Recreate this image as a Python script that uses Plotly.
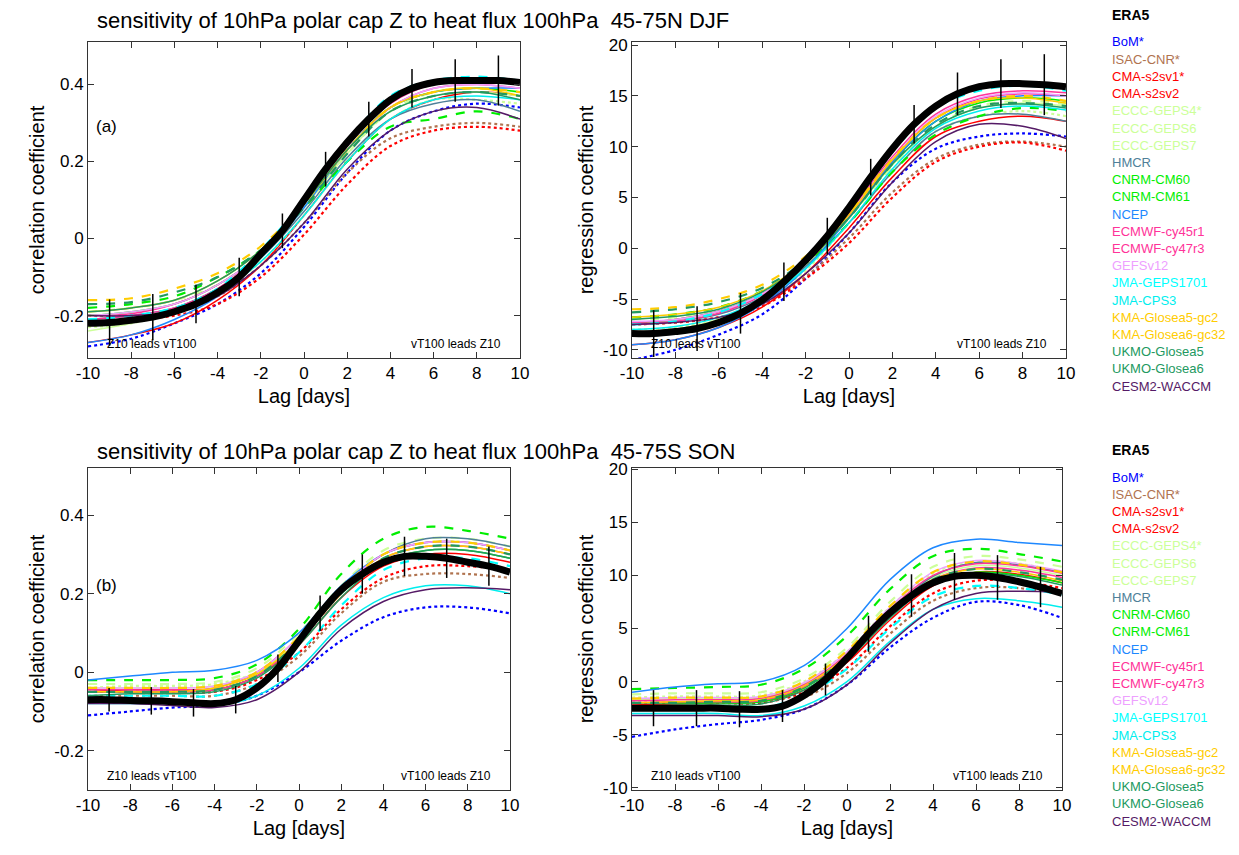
import plotly.graph_objects as go

W, H = 1239, 855
OFF = 8  # page body margin

lags = [-10, -8, -6, -4, -2, 0, 2, 4, 6, 8, 10]
lags_era = list(range(-10, 11))
lags_err = [-9, -7, -5, -3, -1, 1, 3, 5, 7, 9]

models = ["BoM*", "ISAC-CNR*", "CMA-s2sv1*", "CMA-s2sv2", "ECCC-GEPS4*", "ECCC-GEPS6",
          "ECCC-GEPS7", "HMCR", "CNRM-CM60", "CNRM-CM61", "NCEP", "ECMWF-cy45r1",
          "ECMWF-cy47r3", "GEFSv12", "JMA-GEPS1701", "JMA-CPS3", "KMA-Glosea5-gc2",
          "KMA-Glosea6-gc32", "UKMO-Glosea5", "UKMO-Glosea6", "CESM2-WACCM"]
colors = ["#0000ff", "#b0734f", "#ff0000", "#ff0000", "#ccff99", "#ccff99",
          "#ccff99", "#4f7f99", "#00ee00", "#00ee00", "#1e88ff", "#ff3399",
          "#ff3399", "#eea0ff", "#00ffff", "#00eeee", "#ffcc00",
          "#ffcc00", "#229960", "#229960", "#551a66"]
dashes = ["dot", "dot", "dot", "solid", "dot", "solid",
          "dash", "solid", "dash", "solid", "solid", "solid",
          "solid", "solid", "dash", "solid", "dash",
          "solid", "dash", "solid", "solid"]

# ---- panel (a) DJF correlation ----
era_a_corr = [-0.22, -0.218, -0.212, -0.204, -0.19, -0.17, -0.14, -0.1, -0.04, 0.02, 0.1,
              0.18, 0.25, 0.31, 0.36, 0.39, 0.405, 0.41, 0.41, 0.41, 0.405]
err_a_corr = [0.06, 0.06, 0.05, 0.05, 0.045, 0.045, 0.045, 0.05, 0.055, 0.065]
a_corr = [
    [-0.28, -0.26, -0.22, -0.17, -0.09, 0.03, 0.17, 0.28, 0.33, 0.35, 0.34],
    [-0.2, -0.2, -0.19, -0.15, -0.07, 0.04, 0.17, 0.26, 0.29, 0.3, 0.29],
    [-0.22, -0.21, -0.2, -0.17, -0.1, 0.01, 0.14, 0.24, 0.28, 0.29, 0.28],
    [-0.27, -0.25, -0.22, -0.16, -0.07, 0.06, 0.2, 0.31, 0.36, 0.38, 0.37],
    [-0.23, -0.22, -0.19, -0.14, -0.06, 0.06, 0.2, 0.31, 0.36, 0.36, 0.35],
    [-0.24, -0.22, -0.19, -0.14, -0.05, 0.08, 0.22, 0.33, 0.37, 0.38, 0.37],
    [-0.19, -0.18, -0.16, -0.12, -0.04, 0.08, 0.22, 0.33, 0.38, 0.39, 0.38],
    [-0.21, -0.2, -0.18, -0.13, -0.05, 0.07, 0.21, 0.31, 0.35, 0.36, 0.33],
    [-0.18, -0.17, -0.15, -0.1, -0.03, 0.08, 0.2, 0.29, 0.31, 0.33, 0.31],
    [-0.2, -0.19, -0.17, -0.12, -0.04, 0.09, 0.23, 0.34, 0.38, 0.39, 0.38],
    [-0.27, -0.25, -0.21, -0.15, -0.05, 0.08, 0.23, 0.34, 0.38, 0.39, 0.39],
    [-0.2, -0.195, -0.17, -0.12, -0.04, 0.09, 0.23, 0.34, 0.39, 0.4, 0.39],
    [-0.21, -0.2, -0.18, -0.13, -0.04, 0.09, 0.24, 0.35, 0.4, 0.41, 0.4],
    [-0.2, -0.19, -0.17, -0.12, -0.04, 0.09, 0.23, 0.34, 0.39, 0.4, 0.39],
    [-0.21, -0.2, -0.18, -0.13, -0.03, 0.1, 0.25, 0.37, 0.41, 0.42, 0.41],
    [-0.22, -0.21, -0.19, -0.14, -0.06, 0.06, 0.2, 0.31, 0.36, 0.37, 0.36],
    [-0.16, -0.155, -0.13, -0.09, -0.02, 0.09, 0.23, 0.34, 0.38, 0.39, 0.38],
    [-0.19, -0.18, -0.16, -0.11, -0.03, 0.09, 0.23, 0.34, 0.38, 0.39, 0.37],
    [-0.17, -0.165, -0.14, -0.1, -0.03, 0.08, 0.22, 0.33, 0.37, 0.38, 0.37],
    [-0.19, -0.18, -0.16, -0.11, -0.03, 0.09, 0.23, 0.33, 0.37, 0.38, 0.36],
    [-0.2, -0.2, -0.19, -0.15, -0.07, 0.04, 0.18, 0.28, 0.33, 0.34, 0.31],
]

# ---- panel (a) DJF regression ----
era_a_reg = [-8.4, -8.4, -8.2, -7.9, -7.3, -6.4, -5.1, -3.3, -1.2, 1.2, 4.0,
             7.0, 9.8, 12.2, 14.0, 15.2, 15.9, 16.2, 16.2, 16.1, 15.9]
err_a_reg = [2.3, 2.2, 2.0, 1.9, 1.8, 1.8, 1.9, 2.1, 2.4, 3.0]
a_reg = [
    [-11, -10, -8.5, -6.5, -3, 1.5, 6.5, 9.8, 11, 11.3, 11],
    [-7.5, -7.3, -6.8, -5.5, -2.8, 1, 5.5, 8.8, 10.2, 10.5, 10],
    [-7.5, -7.3, -6.8, -5.7, -3, 0.5, 5, 8.5, 10, 10.4, 9.6],
    [-9.5, -9, -7.8, -5.8, -2.5, 2, 7, 11, 12.5, 13, 12.5],
    [-8, -7.8, -7, -5.3, -2.2, 2.5, 7.5, 11.5, 13, 13.5, 13],
    [-8.5, -8, -7, -5, -1.8, 3, 8.2, 12, 13.8, 14.3, 14],
    [-7, -6.8, -6, -4.5, -1.5, 3, 8, 12, 14, 14.5, 14.2],
    [-7.5, -7.2, -6.5, -4.8, -1.8, 2.5, 7.5, 11.5, 13, 13.2, 12.5],
    [-6.8, -6.5, -5.8, -4.2, -1.5, 2.5, 7.5, 11.2, 13, 13.8, 13.5],
    [-7.3, -7, -6.2, -4.5, -1.5, 3, 8.5, 12.5, 14.3, 14.8, 14.5],
    [-9.5, -9, -7.8, -5.5, -2, 3, 8.5, 12.5, 14.5, 15, 15],
    [-7.3, -7, -6.2, -4.5, -1.5, 3.2, 8.7, 12.8, 14.7, 15.2, 15],
    [-7.5, -7.2, -6.4, -4.6, -1.4, 3.5, 9, 13.2, 15, 15.5, 15.3],
    [-7.2, -7, -6.2, -4.5, -1.4, 3.3, 8.8, 13, 14.8, 15.3, 15],
    [-7.5, -7.2, -6.3, -4.5, -1.2, 3.8, 9.5, 13.8, 15.5, 16, 15.5],
    [-8, -7.7, -6.8, -5, -2, 2.5, 7.8, 11.8, 13.5, 14, 13.6],
    [-6, -5.8, -5, -3.6, -0.8, 3.5, 8.8, 12.8, 14.5, 15, 14.5],
    [-6.8, -6.5, -5.8, -4.2, -1.2, 3.3, 8.7, 12.8, 14.5, 14.8, 14.3],
    [-6.3, -6, -5.3, -3.9, -1.2, 3, 8.3, 12.2, 14, 14.3, 14],
    [-7, -6.7, -6, -4.3, -1.3, 3, 8.3, 12, 13.8, 14.2, 13.8],
    [-7.5, -7.3, -6.8, -5.5, -2.5, 1.5, 6.5, 10.5, 12.2, 12, 10.8],
]

# ---- panel (b) SON correlation ----
era_b_corr = [-0.07, -0.07, -0.072, -0.073, -0.075, -0.078, -0.08, -0.07, -0.04, 0.01, 0.08,
              0.15, 0.21, 0.25, 0.28, 0.295, 0.295, 0.29, 0.28, 0.27, 0.255]
err_b_corr = [0.03, 0.035, 0.035, 0.035, 0.035, 0.045, 0.05, 0.05, 0.05, 0.05]
b_corr = [
    [-0.11, -0.1, -0.09, -0.085, -0.06, 0.0, 0.08, 0.14, 0.165, 0.165, 0.15],
    [-0.06, -0.06, -0.06, -0.06, -0.03, 0.04, 0.15, 0.23, 0.25, 0.25, 0.24],
    [-0.05, -0.05, -0.05, -0.05, -0.02, 0.05, 0.16, 0.24, 0.27, 0.27, 0.26],
    [-0.05, -0.045, -0.045, -0.045, -0.01, 0.07, 0.19, 0.27, 0.3, 0.3, 0.28],
    [-0.04, -0.035, -0.035, -0.03, 0.0, 0.08, 0.21, 0.3, 0.33, 0.33, 0.31],
    [-0.04, -0.04, -0.04, -0.035, 0.0, 0.08, 0.2, 0.29, 0.32, 0.32, 0.3],
    [-0.03, -0.03, -0.03, -0.025, 0.01, 0.1, 0.22, 0.31, 0.34, 0.34, 0.32],
    [-0.05, -0.05, -0.05, -0.045, -0.01, 0.08, 0.21, 0.3, 0.34, 0.34, 0.32],
    [-0.02, -0.02, -0.02, -0.015, 0.02, 0.11, 0.25, 0.34, 0.37, 0.36, 0.34],
    [-0.05, -0.05, -0.05, -0.045, -0.01, 0.08, 0.2, 0.28, 0.31, 0.31, 0.29],
    [-0.02, -0.01, 0.0, 0.005, 0.03, 0.1, 0.22, 0.3, 0.33, 0.33, 0.31],
    [-0.05, -0.05, -0.05, -0.045, -0.01, 0.08, 0.2, 0.29, 0.32, 0.32, 0.3],
    [-0.045, -0.045, -0.045, -0.04, 0.0, 0.09, 0.21, 0.3, 0.33, 0.33, 0.31],
    [-0.04, -0.04, -0.04, -0.035, 0.0, 0.09, 0.21, 0.3, 0.33, 0.33, 0.31],
    [-0.06, -0.06, -0.06, -0.06, -0.03, 0.05, 0.17, 0.26, 0.29, 0.29, 0.27],
    [-0.08, -0.08, -0.08, -0.085, -0.06, 0.01, 0.12, 0.19, 0.22, 0.22, 0.2],
    [-0.04, -0.04, -0.04, -0.035, 0.0, 0.09, 0.21, 0.3, 0.33, 0.33, 0.31],
    [-0.05, -0.05, -0.05, -0.04, -0.005, 0.08, 0.2, 0.29, 0.32, 0.32, 0.3],
    [-0.05, -0.05, -0.05, -0.045, -0.01, 0.08, 0.2, 0.29, 0.32, 0.32, 0.3],
    [-0.06, -0.055, -0.055, -0.05, -0.015, 0.07, 0.19, 0.28, 0.31, 0.31, 0.29],
    [-0.08, -0.08, -0.085, -0.09, -0.07, 0.0, 0.11, 0.18, 0.21, 0.215, 0.21],
]

# ---- panel (b) SON regression ----
era_b_reg = [-2.5, -2.5, -2.5, -2.5, -2.5, -2.6, -2.6, -2.3, -1.3, 0.2, 2.2,
             4.5, 6.5, 8.1, 9.3, 9.9, 10.0, 9.8, 9.4, 8.9, 8.3]
err_b_reg = [1.7, 1.7, 1.7, 1.5, 1.5, 1.7, 2.0, 2.2, 2.1, 1.9]
b_reg = [
    [-5.2, -4.5, -4, -3.6, -2.6, -0.3, 3.2, 6, 7.5, 7.2, 6],
    [-2.5, -2.5, -2.5, -2.5, -1.5, 0.8, 4.5, 7.6, 8.8, 8.8, 8.2],
    [-2, -2, -2, -2, -1, 1.3, 5.2, 8.3, 9.5, 9.4, 8.8],
    [-2.2, -2.1, -2, -1.9, -0.8, 1.8, 5.8, 9, 10.3, 10.1, 9.3],
    [-1.5, -1.4, -1.4, -1.3, 0, 2.8, 7, 10.2, 11.3, 11.1, 10.3],
    [-1.7, -1.6, -1.6, -1.5, -0.2, 2.5, 6.6, 9.8, 10.9, 10.7, 10],
    [-1.2, -1.1, -1.1, -1, 0.3, 3.2, 7.5, 10.8, 11.8, 11.5, 10.8],
    [-2, -2, -2, -1.9, -0.6, 2.3, 6.5, 9.9, 11.2, 11, 10.3],
    [-0.7, -0.6, -0.5, -0.3, 1.2, 4.3, 8.7, 11.8, 12.5, 12, 11.3],
    [-2, -2, -2, -1.9, -0.6, 2.2, 6.2, 9.3, 10.3, 10, 9.3],
    [-1, -0.5, -0.2, 0, 1.5, 5, 9.6, 12.6, 13.4, 13.1, 12.8],
    [-2, -1.9, -1.9, -1.8, -0.5, 2.3, 6.4, 9.6, 10.7, 10.5, 9.8],
    [-1.8, -1.7, -1.7, -1.6, -0.3, 2.6, 6.8, 10, 11.1, 10.9, 10.2],
    [-1.6, -1.5, -1.5, -1.4, -0.1, 2.8, 7, 10.3, 11.4, 11.1, 10.4],
    [-2.5, -2.5, -2.5, -2.5, -1.3, 1.2, 5, 8, 9, 8.8, 8.2],
    [-3, -3, -3, -3.2, -2.3, 0, 3.8, 6.8, 7.8, 7.6, 7],
    [-1.6, -1.5, -1.5, -1.4, 0, 2.9, 7.1, 10.3, 11.3, 11, 10.3],
    [-2, -1.9, -1.8, -1.7, -0.4, 2.4, 6.5, 9.6, 10.6, 10.3, 9.5],
    [-2, -2, -1.9, -1.8, -0.5, 2.3, 6.4, 9.6, 10.6, 10.3, 9.6],
    [-2.3, -2.2, -2.2, -2.1, -0.8, 2, 6, 9.2, 10.2, 9.9, 9.1],
    [-3.2, -3.2, -3.2, -3.3, -2.6, -0.3, 3.6, 6.8, 8.3, 8.5, 8.4],
]

FONT = "Liberation Sans, Arial, sans-serif"
xticks = list(range(-10, 11, 2))

def px2x(p):
    return (p - OFF) / W

def px2y(p):
    return 1 - (p - OFF) / H

panels = [
    # (model data, era, err, xpx, ypx, yrange, ytick, ylabel)
    (a_corr, era_a_corr, err_a_corr, (88, 520), (42, 358), [-0.31, 0.51], [-0.2, 0, 0.2, 0.4], "correlation coefficient"),
    (a_reg, era_a_reg, err_a_reg, (632, 1066), (42, 358), [-10.8, 20.3], list(range(-10, 21, 5)), "regression coefficient"),
    (b_corr, era_b_corr, err_b_corr, (88, 510), (468, 790), [-0.3, 0.52], [-0.2, 0, 0.2, 0.4], "correlation coefficient"),
    (b_reg, era_b_reg, err_b_reg, (632, 1062), (468, 790), [-10.2, 20.1], list(range(-10, 21, 5)), "regression coefficient"),
]

fig = go.Figure()
annotations = []

for i, (mdata, era, err, xp, yp, yr, yt, ylab) in enumerate(panels):
    n = "" if i == 0 else str(i + 1)
    xa, ya = "x" + n, "y" + n
    for vals, c, d in zip(mdata, colors, dashes):
        fig.add_trace(go.Scatter(x=lags, y=vals, mode="lines", xaxis=xa, yaxis=ya,
                                 line=dict(color=c, dash=d, width=1.5 if d == "solid" else 2.2,
                                           shape="spline"), showlegend=False))
    fig.add_trace(go.Scatter(x=lags_era, y=era, mode="lines", xaxis=xa, yaxis=ya,
                             line=dict(color="black", width=7, shape="spline"), showlegend=False))
    era_odd = [era[lags_era.index(l)] for l in lags_err]
    fig.add_trace(go.Scatter(x=lags_err, y=era_odd, mode="markers", xaxis=xa, yaxis=ya,
                             marker=dict(size=1, color="black"),
                             error_y=dict(type="data", array=err, color="black", thickness=1.5, width=0),
                             showlegend=False))
    axis_common = dict(showline=True, linecolor="#333", linewidth=1, mirror="ticks", ticks="inside",
                       ticklen=6, tickcolor="#333", showgrid=False, zeroline=False, automargin=False,
                       tickfont=dict(size=17, family=FONT, color="black"))
    fig.layout["xaxis" + n] = dict(axis_common, domain=[px2x(xp[0]), px2x(xp[1])], range=[-10, 10],
                                   tickvals=xticks, ticktext=[str(v) for v in xticks], anchor=ya,
                                   title=dict(text="Lag [days]", font=dict(size=20, family=FONT), standoff=6))
    fig.layout["yaxis" + n] = dict(axis_common, domain=[px2y(yp[1]), px2y(yp[0])], range=yr,
                                   tickvals=yt, ticktext=[f"{v:g}" for v in yt], anchor=xa,
                                   title=dict(text=ylab, font=dict(size=20, family=FONT), standoff=4))
    ybot = yr[0] + 0.045 * (yr[1] - yr[0])
    annotations.append(dict(x=-9.2, y=ybot, xref=xa, yref=ya, text="Z10 leads vT100", showarrow=False,
                            xanchor="left", font=dict(size=12, family=FONT, color="black")))
    annotations.append(dict(x=9.2, y=ybot, xref=xa, yref=ya, text="vT100 leads Z10", showarrow=False,
                            xanchor="right", font=dict(size=12, family=FONT, color="black")))

annotations.append(dict(x=-9.7, y=0.29, xref="x", yref="y", text="(a)", showarrow=False,
                        xanchor="left", font=dict(size=17, family=FONT, color="black")))
annotations.append(dict(x=-9.7, y=0.22, xref="x3", yref="y3", text="(b)", showarrow=False,
                        xanchor="left", font=dict(size=17, family=FONT, color="black")))

titles = [("sensitivity of 10hPa polar cap Z to heat flux 100hPa  45-75N DJF", 20),
          ("sensitivity of 10hPa polar cap Z to heat flux 100hPa  45-75S SON", 452)]
for t, ty in titles:
    annotations.append(dict(x=px2x(95), y=px2y(ty), xref="paper", yref="paper", text=t, showarrow=False,
                            xanchor="left", yanchor="middle", font=dict(size=22, family=FONT, color="black")))

for top in (15, 450):
    annotations.append(dict(x=px2x(1110), y=px2y(top), xref="paper", yref="paper", text="<b>ERA5</b>",
                            showarrow=False, xanchor="left", yanchor="middle",
                            font=dict(size=14, family=FONT, color="black")))
    for k, (m, c) in enumerate(zip(models, colors)):
        annotations.append(dict(x=px2x(1110), y=px2y(top + 27 + k * 17.2), xref="paper", yref="paper",
                                text=m, showarrow=False, xanchor="left", yanchor="middle",
                                font=dict(size=13, family=FONT, color=c)))

fig.update_layout(width=W, height=H, margin=dict(l=0, r=0, t=0, b=0),
                  plot_bgcolor="white", paper_bgcolor="white", annotations=annotations,
                  font=dict(family=FONT, color="black"))

fig.write_html("out.html")
